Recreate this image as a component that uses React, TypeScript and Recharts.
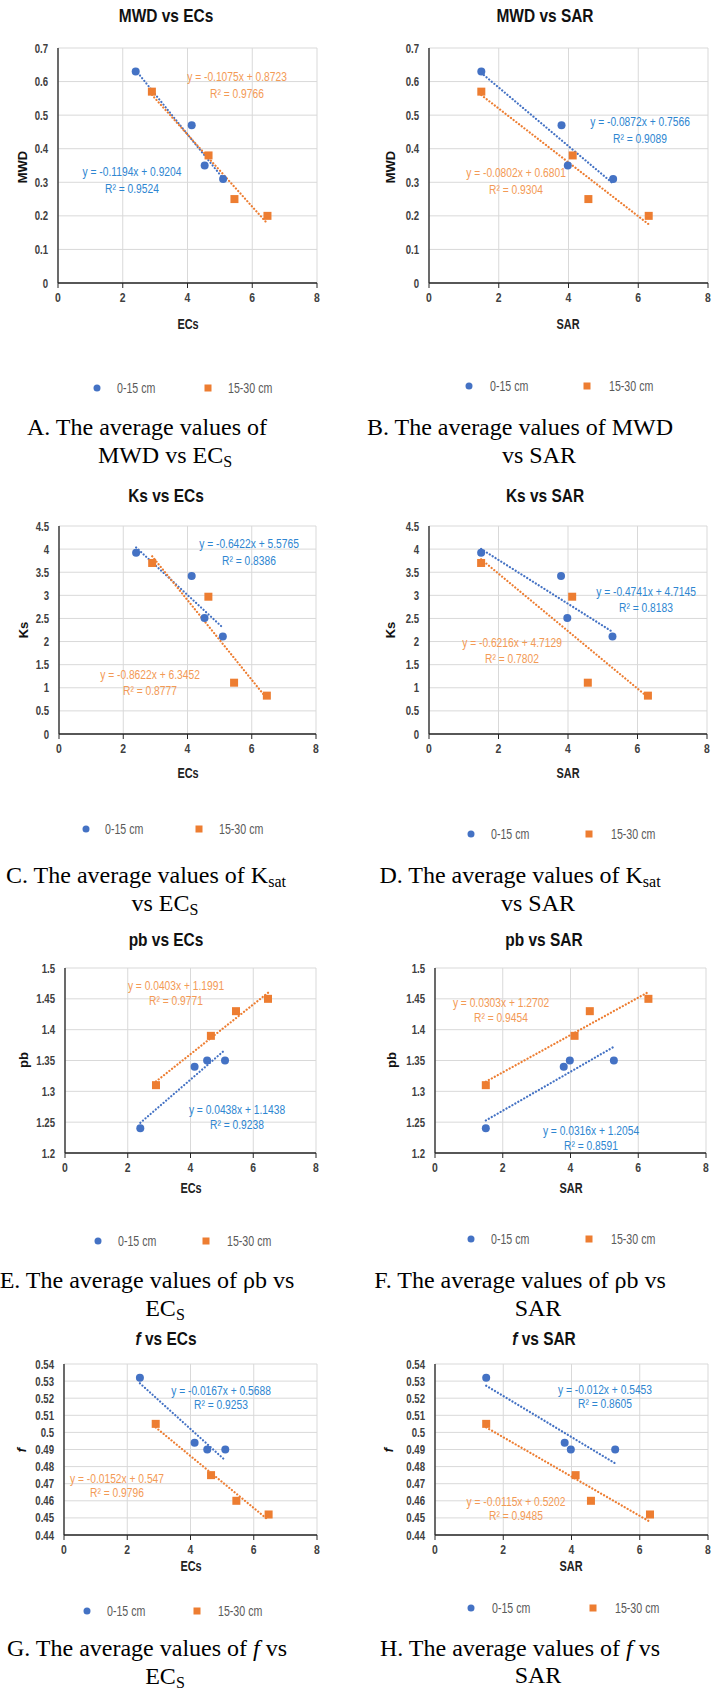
import React from 'react';
import { ScatterChart, Scatter, XAxis, YAxis, CartesianGrid, ReferenceLine } from 'recharts';

const FONT = "'Liberation Sans',Arial,sans-serif";
const SERIF = "'Liberation Serif','Times New Roman',serif";
const BLUE = '#4472C4';
const ORANGE = '#ED7D31';
const BLUE_TXT = '#2E86D1';
const ORANGE_TXT = '#F39A55';
const AXIS = '#262626';
const TICK_TXT = '#404040';

// x values (same samples in every panel)
const ecs0 = [2.4, 4.13, 4.53, 5.1];
const ecs15 = [2.9, 4.65, 5.45, 6.47];
const sar0 = [1.5, 3.8, 3.98, 5.28];
const sar15 = [1.5, 4.12, 4.57, 6.3];

// y values
const mwd0 = [0.63, 0.47, 0.35, 0.31];
const mwd15 = [0.57, 0.38, 0.25, 0.2];
const ks0 = [3.92, 3.42, 2.51, 2.11];
const ks15 = [3.7, 2.97, 1.11, 0.83];
const pb0 = [1.24, 1.34, 1.35, 1.35];
const pb15 = [1.31, 1.39, 1.43, 1.45];
const f0 = [0.532, 0.494, 0.49, 0.49];
const f15 = [0.505, 0.475, 0.46, 0.452];

// tick labels
const xTicks = [0, 2, 4, 6, 8];
const mwdTicks = [0, 0.1, 0.2, 0.3, 0.4, 0.5, 0.6, 0.7];
const ksTicks = [0, 0.5, 1, 1.5, 2, 2.5, 3, 3.5, 4, 4.5];
const pbTicks = [1.2, 1.25, 1.3, 1.35, 1.4, 1.45, 1.5];
const fTicks = [0.44, 0.45, 0.46, 0.47, 0.48, 0.49, 0.5, 0.51, 0.52, 0.53, 0.54];

// trendline [slope, intercept, R²] as printed on the chart
const tMwdEc0 = [-0.1194, 0.9204, 0.9524];
const tMwdEc15 = [-0.1075, 0.8723, 0.9766];
const tMwdSar0 = [-0.0872, 0.7566, 0.9089];
const tMwdSar15 = [-0.0802, 0.6801, 0.9304];
const tKsEc0 = [-0.6422, 5.5765, 0.8386];
const tKsEc15 = [-0.8622, 6.3452, 0.8777];
const tKsSar0 = [-0.4741, 4.7145, 0.8183];
const tKsSar15 = [-0.6216, 4.7129, 0.7802];
const tPbEc0 = [0.0438, 1.1438, 0.9238];
const tPbEc15 = [0.0403, 1.1991, 0.9771];
const tPbSar0 = [0.0316, 1.2054, 0.8591];
const tPbSar15 = [0.0303, 1.2702, 0.9454];
const tFEc0 = [-0.0167, 0.5688, 0.9253];
const tFEc15 = [-0.0152, 0.547, 0.9796];
const tFSar0 = [-0.012, 0.5453, 0.8605];
const tFSar15 = [-0.0115, 0.5202, 0.9485];

const YW = 50;
const MT = 10;
const MR = 10;
const XH = 30;

const panels = [
  {
    title: 'MWD vs ECs', yName: 'MWD', xName: 'ECs', italicTitle: false,
    x0: ecs0, x15: ecs15, y0: mwd0, y15: mwd15, yTicks: mwdTicks, t0: tMwdEc0, t15: tMwdEc15,
    l: 58, r: 317, t: 48, b: 283, titleXY: [166, 22], yTitle: [22, 167], xTitle: [188, 325],
    leg: [[97, 388], [117], [208, 388], [228]],
    eq0: [132, 171, 188], eq15: [237, 76, 93],
    cap1: [147, 435], cap2: [165, 463],
  },
  {
    title: 'MWD vs SAR', yName: 'MWD', xName: 'SAR', italicTitle: false,
    x0: sar0, x15: sar15, y0: mwd0, y15: mwd15, yTicks: mwdTicks, t0: tMwdSar0, t15: tMwdSar15,
    l: 429, r: 708, t: 48, b: 283, titleXY: [545, 22], yTitle: [390, 167], xTitle: [568, 325],
    leg: [[469, 386], [490], [587, 386], [609]],
    eq0: [640, 121, 138], eq15: [516, 172, 189],
    cap1: [520, 435], cap2: [539, 463],
  },
  {
    title: 'Ks vs ECs', yName: 'Ks', xName: 'ECs', italicTitle: false,
    x0: ecs0, x15: ecs15, y0: ks0, y15: ks15, yTicks: ksTicks, t0: tKsEc0, t15: tKsEc15,
    l: 59, r: 316, t: 526, b: 734, titleXY: [166, 502], yTitle: [23, 630], xTitle: [188, 774],
    leg: [[86, 829], [105], [199, 829], [219]],
    eq0: [249, 543, 560], eq15: [150, 674, 690],
    cap1: [146, 883], cap2: [165, 911],
  },
  {
    title: 'Ks vs SAR', yName: 'Ks', xName: 'SAR', italicTitle: false,
    x0: sar0, x15: sar15, y0: ks0, y15: ks15, yTicks: ksTicks, t0: tKsSar0, t15: tKsSar15,
    l: 429, r: 707, t: 526, b: 734, titleXY: [545, 502], yTitle: [390, 630], xTitle: [568, 774],
    leg: [[471, 834], [491], [589, 834], [611]],
    eq0: [646, 591, 607], eq15: [512, 642, 658],
    cap1: [520, 883], cap2: [538, 911],
  },
  {
    title: 'pb vs ECs', yName: 'pb', xName: 'ECs', italicTitle: false,
    x0: ecs0, x15: ecs15, y0: pb0, y15: pb15, yTicks: pbTicks, t0: tPbEc0, t15: tPbEc15,
    l: 65, r: 316, t: 968, b: 1153, titleXY: [166, 946], yTitle: [23, 1060], xTitle: [191, 1189],
    leg: [[98, 1241], [118], [206, 1241], [227]],
    eq0: [237, 1109, 1124], eq15: [176, 985, 1000],
    cap1: [147, 1288], cap2: [165, 1316],
  },
  {
    title: 'pb vs SAR', yName: 'pb', xName: 'SAR', italicTitle: false,
    x0: sar0, x15: sar15, y0: pb0, y15: pb15, yTicks: pbTicks, t0: tPbSar0, t15: tPbSar15,
    l: 435, r: 706, t: 968, b: 1153, titleXY: [544, 946], yTitle: [391, 1060], xTitle: [571, 1189],
    leg: [[471, 1239], [491], [589, 1239], [611]],
    eq0: [591, 1130, 1145], eq15: [501, 1002, 1017],
    cap1: [520, 1288], cap2: [538, 1316],
  },
  {
    title: ' vs ECs', yName: 'f', xName: 'ECs', italicTitle: true,
    x0: ecs0, x15: ecs15, y0: f0, y15: f15, yTicks: fTicks, t0: tFEc0, t15: tFEc15,
    l: 64, r: 317, t: 1364, b: 1535, titleXY: [166, 1345], yTitle: [21, 1450], xTitle: [191, 1567],
    leg: [[87, 1611], [107], [197, 1611], [218]],
    eq0: [221, 1390, 1404], eq15: [117, 1478, 1492],
    cap1: [147, 1656], cap2: [165, 1684],
  },
  {
    title: ' vs SAR', yName: 'f', xName: 'SAR', italicTitle: true,
    x0: sar0, x15: sar15, y0: f0, y15: f15, yTicks: fTicks, t0: tFSar0, t15: tFSar15,
    l: 435, r: 708, t: 1364, b: 1535, titleXY: [544, 1345], yTitle: [388, 1450], xTitle: [571, 1567],
    leg: [[471, 1608], [492], [593, 1608], [615]],
    eq0: [605, 1389, 1403], eq15: [516, 1501, 1515],
    cap1: [520, 1656], cap2: [538, 1683],
  },
];

const SUB = { fontSize: 16, dy: 4 };
const captions: [React.ReactNode, React.ReactNode][] = [
  ['A. The average values of', <>MWD vs EC<tspan {...SUB}>S</tspan></>],
  ['B. The average values of MWD', 'vs SAR'],
  [<>C. The average values of K<tspan {...SUB}>sat</tspan></>, <>vs EC<tspan {...SUB}>S</tspan></>],
  [<>D. The average values of K<tspan {...SUB}>sat</tspan></>, 'vs SAR'],
  ['E. The average values of ρb vs', <>EC<tspan {...SUB}>S</tspan></>],
  ['F. The average values of ρb vs', 'SAR'],
  [<>G. The average values of <tspan fontStyle="italic">f</tspan> vs</>, <>EC<tspan {...SUB}>S</tspan></>],
  [<>H. The average values of <tspan fontStyle="italic">f</tspan> vs</>, 'SAR'],
];

const circleShape = (props: any) => <circle cx={props.cx} cy={props.cy} r={4} fill={BLUE} />;
const squareShape = (props: any) => (
  <rect x={props.cx - 4} y={props.cy - 4} width={8} height={8} fill={ORANGE} />
);

const YTick = (props: any) => (
  <text transform={`translate(${props.x},${props.y}) scale(0.74,1)`} textAnchor="end" dominantBaseline="central"
    fontFamily={FONT} fontWeight={700} fontSize={13} fill={TICK_TXT}>{String(props.payload.value)}</text>
);
const XTick = (props: any) => (
  <text transform={`translate(${props.x},${props.y}) scale(0.8,1)`} textAnchor="middle" dy="0.71em"
    fontFamily={FONT} fontWeight={700} fontSize={13} fill={TICK_TXT}>{String(props.payload.value)}</text>
);

function trendSeg(xs: number[], t: number[]) {
  const a = Math.min(...xs);
  const b = Math.max(...xs);
  return [
    { x: a, y: t[0] * a + t[1] },
    { x: b, y: t[0] * b + t[1] },
  ];
}

function Panel({ p }: { p: any }) {
  const w = p.r - p.l + YW + MR;
  const h = p.b - p.t + MT + XH;
  const d0 = p.x0.map((x: number, i: number) => ({ x, y: p.y0[i] }));
  const d15 = p.x15.map((x: number, i: number) => ({ x, y: p.y15[i] }));
  const yt = p.yTicks;
  return (
    <div style={{ position: 'absolute', left: p.l - YW, top: p.t - MT }}>
      <ScatterChart width={w} height={h} margin={{ top: MT, right: MR, bottom: 0, left: 0 }}>
        <CartesianGrid stroke="#D9D9D9" strokeWidth={1} />
        <XAxis
          type="number" dataKey="x" domain={[0, 8]} ticks={xTicks} allowDataOverflow interval={0}
          height={XH} tick={XTick} tickSize={5} tickMargin={5}
          axisLine={{ stroke: AXIS, strokeWidth: 1.3 }} tickLine={{ stroke: AXIS }}
        />
        <YAxis
          type="number" dataKey="y" domain={[yt[0], yt[yt.length - 1]]} ticks={yt} allowDataOverflow
          width={YW} tick={YTick} tickSize={0} tickMargin={10} interval={0}
          axisLine={{ stroke: AXIS, strokeWidth: 1.3 }} tickLine={false}
        />
        <ReferenceLine segment={trendSeg(p.x0, p.t0)} stroke={BLUE} strokeWidth={2.2}
          strokeDasharray="0.1 3.3" strokeLinecap="round" ifOverflow="visible" />
        <ReferenceLine segment={trendSeg(p.x15, p.t15)} stroke={ORANGE} strokeWidth={2.2}
          strokeDasharray="0.1 3.3" strokeLinecap="round" ifOverflow="visible" />
        <Scatter name="0-15 cm" data={d0} shape={circleShape} isAnimationActive={false} />
        <Scatter name="15-30 cm" data={d15} shape={squareShape} isAnimationActive={false} />
      </ScatterChart>
    </div>
  );
}

const eqText = (t: number[]) => `y = ${t[0]}x + ${t[1]}`;

function T({ x, y, sx = 1, anchor = 'middle', children, ...rest }: any) {
  return (
    <text transform={`translate(${x},${y}) scale(${sx},1)`} textAnchor={anchor} dominantBaseline="central"
      fontFamily={FONT} {...rest}>{children}</text>
  );
}

function Overlay() {
  return (
    <svg width={716} height={1692} style={{ position: 'absolute', left: 0, top: 0, pointerEvents: 'none' }}>
      {panels.map((p: any, i: number) => (
        <g key={i}>
          <text transform={`translate(${p.titleXY[0]},${p.titleXY[1]}) scale(0.86,1)`} textAnchor="middle"
            fontFamily={FONT} fontWeight={700} fontSize={18} fill="#111">
            {p.italicTitle ? <><tspan fontStyle="italic">f</tspan>{p.title}</> : p.title}
          </text>
          <text
            transform={`translate(${p.yTitle[0]},${p.yTitle[1]}) rotate(-90)`} textAnchor="middle" dominantBaseline="central"
            fontFamily={FONT} fontWeight={700} fontSize={13} fill="#111"
            fontStyle={p.yName === 'f' ? 'italic' : 'normal'}
          >{p.yName}</text>
          <T x={p.xTitle[0]} y={p.xTitle[1]} sx={0.78} fontWeight={700} fontSize={14} fill="#222">{p.xName}</T>
          <circle cx={p.leg[0][0]} cy={p.leg[0][1]} r={3.5} fill={BLUE} />
          <T x={p.leg[1][0]} y={p.leg[0][1]} sx={0.76} anchor="start" fontSize={14} fill="#595959">0-15 cm</T>
          <rect x={p.leg[2][0] - 3.5} y={p.leg[2][1] - 3.5} width={7} height={7} fill={ORANGE} />
          <T x={p.leg[3][0]} y={p.leg[2][1]} sx={0.76} anchor="start" fontSize={14} fill="#595959">15-30 cm</T>
          <T x={p.eq0[0]} y={p.eq0[1]} sx={0.76} fontSize={13.5} fill={BLUE_TXT}>{eqText(p.t0)}</T>
          <T x={p.eq0[0]} y={p.eq0[2]} sx={0.76} fontSize={13.5} fill={BLUE_TXT}>{`R² = ${p.t0[2]}`}</T>
          <T x={p.eq15[0]} y={p.eq15[1]} sx={0.76} fontSize={13.5} fill={ORANGE_TXT}>{eqText(p.t15)}</T>
          <T x={p.eq15[0]} y={p.eq15[2]} sx={0.76} fontSize={13.5} fill={ORANGE_TXT}>{`R² = ${p.t15[2]}`}</T>
          <text x={p.cap1[0]} y={p.cap1[1]} textAnchor="middle" fontFamily={SERIF} fontSize={24} fill="#000">{captions[i][0]}</text>
          <text x={p.cap2[0]} y={p.cap2[1]} textAnchor="middle" fontFamily={SERIF} fontSize={24} fill="#000">{captions[i][1]}</text>
        </g>
      ))}
    </svg>
  );
}

export default function App() {
  return (
    <div style={{ position: 'absolute', left: 0, top: 0, width: 716, height: 1692, background: '#fff', overflow: 'hidden' }}>
      {panels.map((p, i) => <Panel key={i} p={p} />)}
      <Overlay />
    </div>
  );
}
